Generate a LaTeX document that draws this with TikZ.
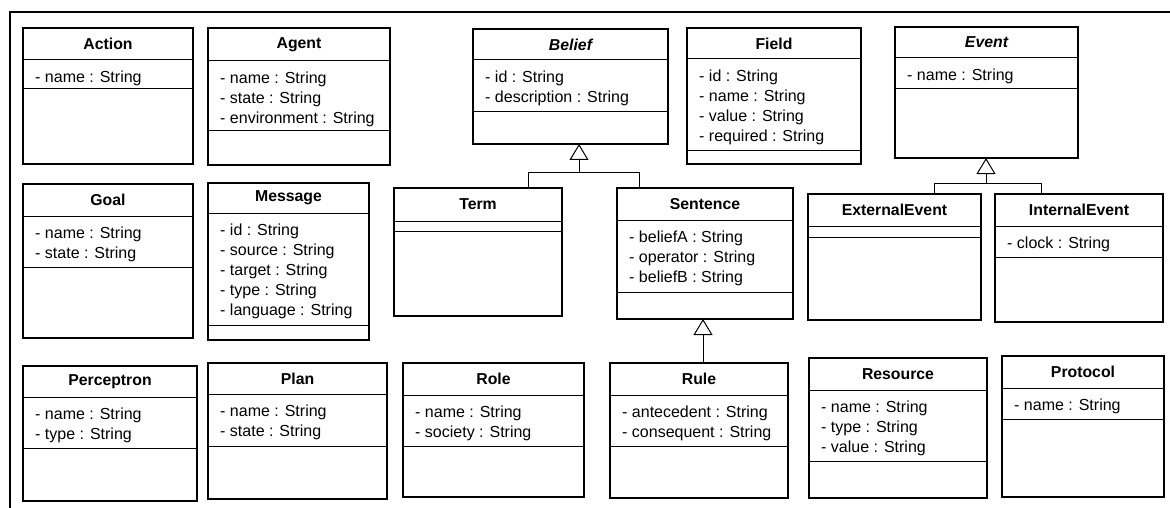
\documentclass[tikz,border=0pt]{standalone}
\usepackage{fontspec}
\setmainfont{Liberation Sans}
\usetikzlibrary{arrows.meta}
\newcommand\umlcls[9]{%
  \node[clsbox, minimum width={(#4-#2)*1pt}, minimum height={(#5-#3)*1pt}] (#1) at ({(#2+#4)/2},{(#3+#5)/2}) {};
  \draw[sepline] (#1.west |- 0,#6) -- (#1.east |- 0,#6);
  \draw[sepline] (#1.west |- 0,#7) -- (#1.east |- 0,#7);
  \node[titletext] (#1-t) at ({(#2+#4)/2},{(#3+#6)/2}) {#8};
  \node[attrtext] (#1-a) at ({#2+12},{#6+8}) {\strut#9};
}
\begin{document}
\begin{tikzpicture}[x=1pt,y=-1pt,
  clsbox/.style={draw, line width=2.2pt, fill=white, inner sep=0pt, outer sep=0pt},
  sepline/.style={line width=1pt},
  titletext/.style={font=\fontsize{15.8}{18}\selectfont\bfseries, inner sep=0pt},
  attrtext/.style={font=\fontsize{16}{20}\selectfont, inner sep=0pt, anchor=north west, align=left},
  conn/.style={line width=1pt},
  gen/.style={line width=1pt, -{Triangle[open, width=19pt, length=16pt, line width=1pt]}}]
\useasboundingbox (0,0) rectangle (1170,508);
% frame
\coordinate (fr0) at (10,12);
\coordinate (fr1) at (1170,12);
\coordinate (fr2) at (10,508);
\draw[line width=2.2pt] (fr1) -- (fr0) -- (fr2);
% row 1
\umlcls{action}{23}{28}{193}{164}{60}{89}{Action}{- name : String}
\umlcls{agent}{208}{28}{390}{165}{61}{131}{Agent}{- name : String\\- state : String\\- environment : String}
\umlcls{belief}{473}{29}{668}{144}{60}{112}{\itshape Belief}{- id : String\\- description : String}
\umlcls{field}{687}{28}{861}{164}{59}{151}{Field}{- id : String\\- name : String\\- value : String\\- required : String}
\umlcls{event}{895}{27}{1078}{158}{58}{89}{\itshape Event}{- name : String}
% row 2
\umlcls{goal}{23}{184}{193}{338}{216}{267}{Goal}{- name : String\\- state : String}
\umlcls{message}{208}{183}{369}{340}{213}{325}{Message}{- id : String\\- source : String\\- target : String\\- type : String\\- language : String}
\umlcls{term}{394}{188}{562}{316}{221}{231}{Term}{}
\umlcls{sentence}{617}{188}{793}{319}{220}{292}{Sentence}{- beliefA : String\\- operator : String\\- beliefB : String}
\umlcls{extevent}{808}{194}{981}{320}{226}{237}{ExternalEvent}{}
\umlcls{intevent}{995}{194}{1163}{322}{226}{257}{InternalEvent}{- clock : String}
% row 3
\umlcls{perceptron}{23}{366}{197}{501}{397}{448}{Perceptron}{- name : String\\- type : String}
\umlcls{plan}{208}{363}{387}{499}{394}{446}{Plan}{- name : String\\- state : String}
\umlcls{role}{403}{363}{584}{497}{395}{446}{Role}{- name : String\\- society : String}
\umlcls{rule}{610}{363}{788}{498}{395}{446}{Rule}{- antecedent : String\\- consequent : String}
\umlcls{resource}{809}{358}{987}{498}{390}{461}{Resource}{- name : String\\- type : String\\- value : String}
\umlcls{protocol}{1002}{356}{1164}{497}{388}{419}{Protocol}{- name : String}
% generalisations
\coordinate (bj) at (579,172);
\coordinate (tj) at (528,172);
\coordinate (sj) at (639,172);
\draw[gen] (bj) -- (bj |- belief.south);
\draw[conn] (tj |- term.north) -- (tj) -- (sj) -- (sj |- sentence.north);
\coordinate (rj) at (703,340);
\draw[gen] (rj |- rule.north) -- (rj |- sentence.south);
\coordinate (ej) at (986,183);
\coordinate (xj) at (934,183);
\coordinate (ij) at (1041,183);
\draw[gen] (ej) -- (ej |- event.south);
\draw[conn] (xj |- extevent.north) -- (xj) -- (ij) -- (ij |- intevent.north);
\end{tikzpicture}
\end{document}
